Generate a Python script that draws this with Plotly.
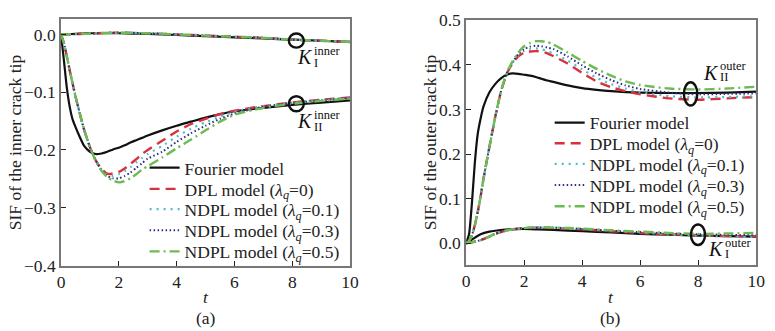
import plotly.graph_objects as go

# ---------------- data ----------------
T = [0, 0.1, 0.2, 0.3, 0.4, 0.5, 0.6, 0.8, 1.0, 1.2, 1.4, 1.6, 1.8, 2.0, 2.2, 2.4,
     2.6, 2.8, 3.0, 3.5, 4.0, 4.5, 5.0, 5.5, 6.0, 7.0, 8.0, 9.0, 10.0]
T_KI = [0, 0.2, 0.5, 0.8, 1.0, 1.5, 2.0, 2.5, 3.0, 4.0, 5.0, 6.0, 7.0, 8.0, 9.0, 10.0]

SERIES = ["Fourier model",
          "DPL model (<i>λ<sub>q</sub></i>=0)",
          "NDPL model (<i>λ<sub>q</sub></i>=0.1)",
          "NDPL model (<i>λ<sub>q</sub></i>=0.3)",
          "NDPL model (<i>λ<sub>q</sub></i>=0.5)"]

# (a) inner crack tip, mode II
kii_in_fourier = [0, -0.045, -0.092, -0.125, -0.147, -0.160, -0.172, -0.193, -0.203, -0.207,
                  -0.206, -0.203, -0.199, -0.196, -0.192, -0.187, -0.183, -0.179, -0.175,
                  -0.166, -0.158, -0.151, -0.144, -0.138, -0.133, -0.127, -0.122, -0.118, -0.114]
kii_in_dpl = [0, -0.015, -0.038, -0.062, -0.085, -0.107, -0.127, -0.165, -0.195, -0.218,
              -0.233, -0.241, -0.241, -0.238, -0.232, -0.224, -0.216, -0.207, -0.200,
              -0.184, -0.168, -0.155, -0.146, -0.138, -0.132, -0.124, -0.118, -0.113, -0.109]
kii_in_n01 = [0, -0.015, -0.038, -0.062, -0.085, -0.107, -0.127, -0.165, -0.195, -0.218,
              -0.234, -0.243, -0.245, -0.242, -0.237, -0.230, -0.222, -0.214, -0.207,
              -0.193, -0.177, -0.163, -0.152, -0.142, -0.134, -0.124, -0.118, -0.113, -0.109]
kii_in_n03 = [0, -0.015, -0.038, -0.062, -0.085, -0.107, -0.127, -0.165, -0.195, -0.218,
              -0.235, -0.245, -0.249, -0.249, -0.245, -0.239, -0.231, -0.223, -0.215,
              -0.203, -0.186, -0.171, -0.158, -0.146, -0.137, -0.125, -0.119, -0.114, -0.110]
kii_in_n05 = [0, -0.015, -0.038, -0.062, -0.085, -0.107, -0.127, -0.165, -0.195, -0.219,
              -0.236, -0.247, -0.253, -0.256, -0.254, -0.249, -0.242, -0.234, -0.228,
              -0.213, -0.197, -0.182, -0.166, -0.151, -0.139, -0.127, -0.120, -0.115, -0.111]

# (a) inner crack tip, mode I
ki_in_fourier = [0, 0.0005, 0.001, 0.0015, 0.002, 0.002, 0.002, 0.0015, 0.001, -0.001,
                 -0.003, -0.005, -0.007, -0.009, -0.011, -0.013]
ki_in_dpl = [0, 0.0, 0.0005, 0.001, 0.0015, 0.0025, 0.003, 0.0025, 0.002, 0.0,
             -0.002, -0.004, -0.006, -0.009, -0.011, -0.013]
ki_in_n01 = [0, 0.0, 0.0005, 0.001, 0.0015, 0.0025, 0.003, 0.0025, 0.002, 0.0,
             -0.002, -0.004, -0.006, -0.009, -0.011, -0.013]
ki_in_n03 = [0, 0.0, 0.0005, 0.001, 0.0015, 0.0025, 0.003, 0.0025, 0.002, 0.0,
             -0.002, -0.004, -0.006, -0.009, -0.011, -0.013]
ki_in_n05 = [0, 0.0, 0.0005, 0.001, 0.0015, 0.0025, 0.003, 0.0025, 0.002, 0.0,
             -0.002, -0.004, -0.006, -0.009, -0.011, -0.013]

# (b) outer crack tip, mode II
kii_out_fourier = [0, 0.020, 0.090, 0.180, 0.245, 0.280, 0.307, 0.338, 0.357, 0.370,
                   0.378, 0.381, 0.380, 0.378, 0.376, 0.373, 0.369, 0.365, 0.362,
                   0.354, 0.348, 0.344, 0.341, 0.339, 0.338, 0.337, 0.337, 0.338, 0.340]
kii_out_dpl = [0, 0.005, 0.018, 0.040, 0.070, 0.105, 0.145, 0.215, 0.282, 0.340,
               0.380, 0.404, 0.419, 0.427, 0.430, 0.431, 0.430, 0.426, 0.420,
               0.403, 0.382, 0.363, 0.350, 0.341, 0.334, 0.325, 0.322, 0.325, 0.328]
kii_out_n01 = [0, 0.005, 0.018, 0.040, 0.070, 0.105, 0.145, 0.215, 0.282, 0.340,
               0.380, 0.405, 0.422, 0.431, 0.436, 0.437, 0.435, 0.431, 0.426,
               0.410, 0.390, 0.371, 0.357, 0.347, 0.339, 0.330, 0.327, 0.328, 0.330]
kii_out_n03 = [0, 0.005, 0.018, 0.040, 0.070, 0.105, 0.145, 0.215, 0.282, 0.340,
               0.381, 0.406, 0.424, 0.435, 0.441, 0.443, 0.442, 0.439, 0.436,
               0.419, 0.399, 0.381, 0.366, 0.354, 0.346, 0.338, 0.334, 0.335, 0.336]
kii_out_n05 = [0, 0.005, 0.018, 0.040, 0.070, 0.105, 0.145, 0.215, 0.282, 0.341,
               0.382, 0.408, 0.428, 0.442, 0.449, 0.453, 0.453, 0.451, 0.446,
               0.428, 0.409, 0.391, 0.376, 0.363, 0.355, 0.347, 0.345, 0.347, 0.351]

# (b) outer crack tip, mode I
ki_out_fourier = [0, 0.008, 0.020, 0.026, 0.028, 0.031, 0.032, 0.031, 0.030, 0.027,
                  0.024, 0.021, 0.019, 0.017, 0.016, 0.015]
ki_out_dpl = [0, 0.002, 0.007, 0.015, 0.021, 0.030, 0.034, 0.035, 0.034, 0.031,
              0.027, 0.023, 0.020, 0.018, 0.016, 0.016]
ki_out_n01 = [0, 0.002, 0.007, 0.015, 0.021, 0.030, 0.034, 0.035, 0.035, 0.032,
              0.028, 0.024, 0.020, 0.017, 0.015, 0.014]
ki_out_n03 = [0, 0.002, 0.007, 0.015, 0.021, 0.030, 0.034, 0.035, 0.035, 0.032,
              0.028, 0.025, 0.022, 0.020, 0.019, 0.018]
ki_out_n05 = [0, 0.002, 0.007, 0.015, 0.021, 0.030, 0.034, 0.036, 0.035, 0.033,
              0.029, 0.026, 0.023, 0.021, 0.022, 0.023]

X_TICKS = [0, 2, 4, 6, 8, 10]
Y_TICKS_A = [0.0, -0.1, -0.2, -0.3, -0.4]
Y_TICKS_B = [0.0, 0.1, 0.2, 0.3, 0.4, 0.5]

# ---------------- styles ----------------
SERIF = "Liberation Serif, Times New Roman, Times, DejaVu Serif, serif"
FS = 17.5
STYLES = [
    dict(color="#111111", width=2.2, dash="solid"),
    dict(color="#d9303c", width=2.4, dash="10px,6px"),
    dict(color="#4fbcc8", width=2.2, dash="2px,5px"),
    dict(color="#2e2e86", width=2.0, dash="1.5px,2.5px"),
    dict(color="#6dbb52", width=2.4, dash="10px,4px,2px,4px"),
]

W, H = 775, 331
# legend row layout (pixels): left x of each legend block, row centres
LEG_A_X, LEG_A_ROWS = 143, [168, 190.5, 212, 234.5, 257]
LEG_B_X, LEG_B_ROWS = 555, [120, 142, 164, 186.5, 209]

fig = go.Figure()

panels = [
    ("x", "y", 0, [kii_in_fourier, kii_in_dpl, kii_in_n01, kii_in_n03, kii_in_n05],
     [ki_in_fourier, ki_in_dpl, ki_in_n01, ki_in_n03, ki_in_n05]),
    ("x2", "y2", 5, [kii_out_fourier, kii_out_dpl, kii_out_n01, kii_out_n03, kii_out_n05],
     [ki_out_fourier, ki_out_dpl, ki_out_n01, ki_out_n03, ki_out_n05]),
]

def legend_key(n):
    return "legend" if n == 1 else "legend%d" % n

for xa, ya, off, kii_list, ki_list in panels:
    for i in range(len(SERIES)):
        leg = legend_key(off + i + 1)
        fig.add_trace(go.Scatter(
            x=T, y=kii_list[i], mode="lines", name=SERIES[i],
            line=dict(shape="spline", smoothing=0.6, **STYLES[i]),
            xaxis=xa, yaxis=ya, legend=leg, showlegend=True))
        fig.add_trace(go.Scatter(
            x=T_KI, y=ki_list[i], mode="lines", name=SERIES[i],
            line=dict(shape="spline", smoothing=0.6, **STYLES[i]),
            xaxis=xa, yaxis=ya, legend=leg, showlegend=False))

dom_xa = [58 / W, 352 / W]
dom_xb = [470 / W, 765 / W]
dom_ya = [1 - 272 / H, 1 - 10 / H]
dom_yb = [1 - 271 / H, 1 - 11 / H]

axis_common = dict(
    showline=True, mirror=True, linecolor="#777777", linewidth=1.6,
    ticks="inside", ticklen=5, tickcolor="#222222", tickwidth=1.2,
    showgrid=False, zeroline=False,
    tickfont=dict(family=SERIF, size=FS, color="#222222"),
)

LEG_FONT = dict(family=SERIF, size=FS, color="#222222")
legends = {}
for k in range(5):
    legends[legend_key(k + 1)] = dict(
        x=LEG_A_X / W, y=1 - LEG_A_ROWS[k] / H, xanchor="left", yanchor="middle",
        bgcolor="rgba(0,0,0,0)", itemwidth=30, font=LEG_FONT)
    legends[legend_key(k + 6)] = dict(
        x=LEG_B_X / W, y=1 - LEG_B_ROWS[k] / H, xanchor="left", yanchor="middle",
        bgcolor="rgba(0,0,0,0)", itemwidth=30, font=LEG_FONT)

fig.update_layout(
    width=W, height=H,
    margin=dict(l=0, r=0, t=0, b=0),
    paper_bgcolor="white", plot_bgcolor="white",
    font=dict(family=SERIF),
    xaxis=dict(domain=dom_xa, range=[0, 10], tickvals=X_TICKS, anchor="y", **axis_common),
    yaxis=dict(domain=dom_ya, range=[-0.4, 0.026], tickvals=Y_TICKS_A, tickformat=".1f",
               anchor="x", **axis_common),
    xaxis2=dict(domain=dom_xb, range=[0, 10], tickvals=X_TICKS, anchor="y2", **axis_common),
    yaxis2=dict(domain=dom_yb, range=[-0.048, 0.5], tickvals=Y_TICKS_B, tickformat=".1f",
                anchor="x2", **axis_common),
    showlegend=True,
    **legends,
)

# circles marking the curve families
circles = [
    ("x", "y", 7.88, 8.40, 0.0016, -0.0228),
    ("x", "y", 7.88, 8.40, -0.107, -0.133),
    ("x2", "y2", 7.51, 7.97, 0.361, 0.309),
    ("x2", "y2", 7.75, 8.24, 0.042, -0.004),
]
for xr, yr, x0, x1, y0, y1 in circles:
    fig.add_shape(type="circle", xref=xr, yref=yr, x0=x0, x1=x1, y0=y0, y1=y1,
                  line=dict(color="#111111", width=2.4))

def klabel(xr, yr, xk, yk, sup, xsup, ysup, sub, xsub, ysub):
    fig.add_annotation(xref=xr, yref=yr, x=xk, y=yk, text="<i>K</i>", showarrow=False,
                       xanchor="center", yanchor="middle",
                       font=dict(family=SERIF, size=20, color="#111111"))
    fig.add_annotation(xref=xr, yref=yr, x=xsup, y=ysup, text=sup, showarrow=False,
                       xanchor="left", yanchor="middle",
                       font=dict(family=SERIF, size=12.5, color="#111111"))
    fig.add_annotation(xref=xr, yref=yr, x=xsub, y=ysub, text=sub, showarrow=False,
                       xanchor="left", yanchor="middle",
                       font=dict(family=SERIF, size=12.5, color="#111111"))

klabel("x", "y", 8.45, -0.039, "inner", 8.67, -0.028, "I", 8.67, -0.049)
klabel("x", "y", 8.45, -0.150, "inner", 8.67, -0.139, "II", 8.67, -0.161)
klabel("x2", "y2", 8.45, 0.381, "outer", 8.67, 0.397, "II", 8.67, 0.372)
klabel("x2", "y2", 8.62, -0.014, "outer", 8.84, 0.001, "I", 8.84, -0.025)

txt = dict(family=SERIF, size=FS, color="#222222")
def paper_text(x, y, text, angle=0):
    fig.add_annotation(xref="paper", yref="paper", x=x / W, y=1 - y / H, text=text,
                       textangle=angle, showarrow=False, xanchor="center",
                       yanchor="middle", font=txt)

paper_text(12, 141, "SIF of the inner crack tip", -90)
paper_text(434, 141, "SIF of the outer crack tip", -90)
paper_text(205, 305, "<i>t</i>")
paper_text(617, 305, "<i>t</i>")
paper_text(205, 328, "(a)")
paper_text(617, 328, "(b)")

fig.write_html("out.html")
